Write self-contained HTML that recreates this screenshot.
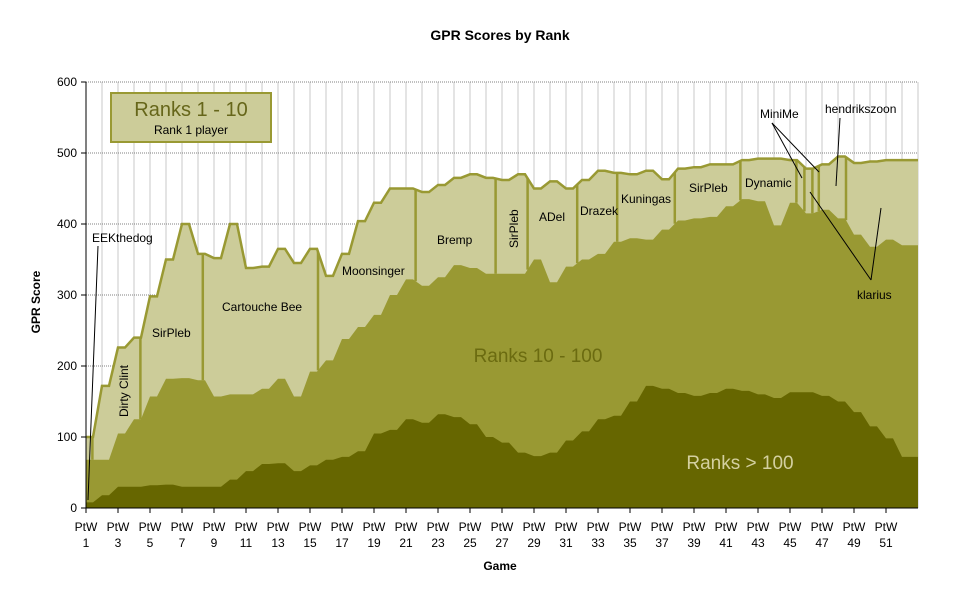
<!DOCTYPE html>
<html><head><meta charset="utf-8"><style>
body{margin:0;background:#fff;font-family:"Liberation Sans",sans-serif}
svg text{font-family:"Liberation Sans",sans-serif}
</style></head><body>
<svg width="980" height="600" xmlns="http://www.w3.org/2000/svg" id="c">
<rect width="980" height="600" fill="#fff"/>
<text x="500" y="40" font-size="14" font-weight="bold" text-anchor="middle">GPR Scores by Rank</text>
<g id="grid"></g><g id="areas"></g><g id="seps"></g><g id="axes"></g>
<g id="ann" stroke="#000" stroke-width="1" fill="none">
<line x1="98" y1="246" x2="88" y2="500"/>
<line x1="772" y1="123" x2="802" y2="178"/>
<line x1="772" y1="123" x2="819" y2="172"/>
<line x1="840" y1="118" x2="836" y2="186"/>
<line x1="871" y1="280" x2="810" y2="192"/>
<line x1="871" y1="280" x2="881" y2="208"/>
</g>
<g font-size="12" fill="#000">
<text x="92" y="242">EEKthedog</text>
<text x="128" y="417" transform="rotate(-90 128 417)">Dirty Clint</text>
<text x="152" y="337">SirPleb</text>
<text x="222" y="311">Cartouche Bee</text>
<text x="342" y="275">Moonsinger</text>
<text x="437" y="244">Bremp</text>
<text x="518" y="248" transform="rotate(-90 518 248)">SirPleb</text>
<text x="539" y="221">ADel</text>
<text x="580" y="215">Drazek</text>
<text x="621" y="203">Kuningas</text>
<text x="689" y="192">SirPleb</text>
<text x="745" y="187">Dynamic</text>
<text x="760" y="118">MiniMe</text>
<text x="825" y="113">hendrikszoon</text>
<text x="857" y="299">klarius</text>
</g>
<text x="538" y="362" font-size="19" fill="#6b6b10" text-anchor="middle">Ranks 10 - 100</text>
<text x="740" y="469" font-size="19" fill="#d4d0a0" text-anchor="middle">Ranks &gt; 100</text>
<g>
<rect x="111" y="93" width="160" height="49" fill="#cccc99" stroke="#999933" stroke-width="2"/>
<text x="191" y="116" font-size="20" fill="#66661a" text-anchor="middle">Ranks 1 - 10</text>
<text x="191" y="134" font-size="12" fill="#000" text-anchor="middle">Rank 1 player</text>
</g>
<text x="33" y="295" font-size="12" font-weight="bold" transform="rotate(-90 40 295)" text-anchor="middle">GPR Score</text>
<text x="500" y="570" font-size="12" font-weight="bold" text-anchor="middle">Game</text>
</svg>
<script>
const games=[];for(let i=1;i<=52;i++)games.push(i);
const rank1=[100,172,226,240,298,350,400,358,352,400,338,340,365,345,365,327,358,404,430,450,450,445,455,465,470,465,462,470,450,460,450,462,475,472,470,475,463,478,480,484,484,490,492,492,490,478,484,495,486,488,490,490];
const rank10=[68,68,105,125,157,182,183,180,157,160,160,168,182,157,192,208,238,255,272,300,322,313,325,342,338,330,330,330,350,318,340,350,358,375,380,378,392,405,408,410,425,435,432,398,430,415,420,408,385,368,378,370];
const rank100=[8,18,30,30,32,33,30,30,30,40,52,62,63,52,60,68,72,80,105,110,125,120,132,128,118,100,92,78,73,78,95,108,125,130,150,172,168,162,158,162,168,165,160,155,163,163,158,150,135,115,98,72];
const playerChanges=[1.4,4.4,8.3,15.5,21.6,26.6,28.6,31.7,34.2,37.8,41.9,45.4,45.9,46.4,46.8,48.5];
const yTicks=[0,100,200,300,400,500,600];
const X0=86,STEP=16,Y0=508,PX=0.71,XR=918;
const ns="http://www.w3.org/2000/svg";
const xg=g=>X0+(g-1)*STEP;
const y=v=>Y0-v*PX;
function mk(t,a,p){const e=document.createElementNS(ns,t);for(const k in a)e.setAttribute(k,a[k]);p.appendChild(e);return e;}
function pts(arr){const p=[];arr.forEach((v,i)=>{const x=xg(games[i]);p.push([x,y(v)]);p.push([Math.min(x+7,XR),y(v)]);});p.push([XR,y(arr[arr.length-1])]);return p;}
function valAt(arr,g){const x=xg(g);const p=pts(arr);for(let i=0;i<p.length-1;i++){if(x>=p[i][0]&&x<=p[i+1][0]){const t=(x-p[i][0])/((p[i+1][0]-p[i][0])||1);return p[i][1]+t*(p[i+1][1]-p[i][1]);}}return p[p.length-1][1];}
const grid=document.getElementById('grid');
for(let g=1;g<=53;g++){const l=mk('line',{x1:xg(g),x2:xg(g),y1:y(600),y2:Y0,stroke:'#c8c8c8'},grid);

}
yTicks.slice(1).forEach(v=>{const l=mk('line',{x1:X0,x2:XR,y1:y(v),y2:y(v),stroke:'#808080','stroke-dasharray':'1,1'},grid);

});
const areas=document.getElementById('areas');
function area(arr,fill,name){const p=pts(arr);const d='M'+X0+','+Y0+' '+p.map(q=>'L'+q[0]+','+q[1]).join(' ')+' L'+XR+','+Y0+'Z';const e=mk('path',{d:d,fill:fill},areas);

}
area(rank1,'#cccc99','area-ranks-1-10');
area(rank10,'#999933','area-ranks-10-100');
area(rank100,'#666600','area-ranks-over-100');
const tl=mk('polyline',{points:pts(rank1).map(q=>q.join(',')).join(' '),fill:'none',stroke:'#999933','stroke-width':2.5},areas);


const seps=document.getElementById('seps');
playerChanges.forEach(g=>{const x=xg(g);const s=mk('line',{x1:x,x2:x,y1:valAt(rank1,g),y2:valAt(rank10,g),stroke:'#999933','stroke-width':2.5},seps);

});
const ax=document.getElementById('axes');
mk('line',{x1:X0,x2:X0,y1:y(600),y2:Y0,stroke:'#000'},ax);
mk('line',{x1:X0,x2:XR,y1:Y0,y2:Y0,stroke:'#000'},ax);
yTicks.forEach(v=>{mk('line',{x1:X0-5,x2:X0,y1:y(v),y2:y(v),stroke:'#000'},ax);const t=mk('text',{x:X0-9,y:y(v)+4,'font-size':12,'text-anchor':'end'},ax);t.textContent=v;

});
games.forEach(g=>{if(g%2===1){const x=xg(g);mk('line',{x1:x,x2:x,y1:Y0,y2:Y0+5,stroke:'#000'},ax);
const t=mk('text',{x:x,y:Y0+23,'font-size':12,'text-anchor':'middle'},ax);t.textContent='PtW';


const t2=mk('text',{x:x,y:Y0+39,'font-size':12,'text-anchor':'middle'},ax);t2.textContent=g;

}});
</script>
</body></html>
